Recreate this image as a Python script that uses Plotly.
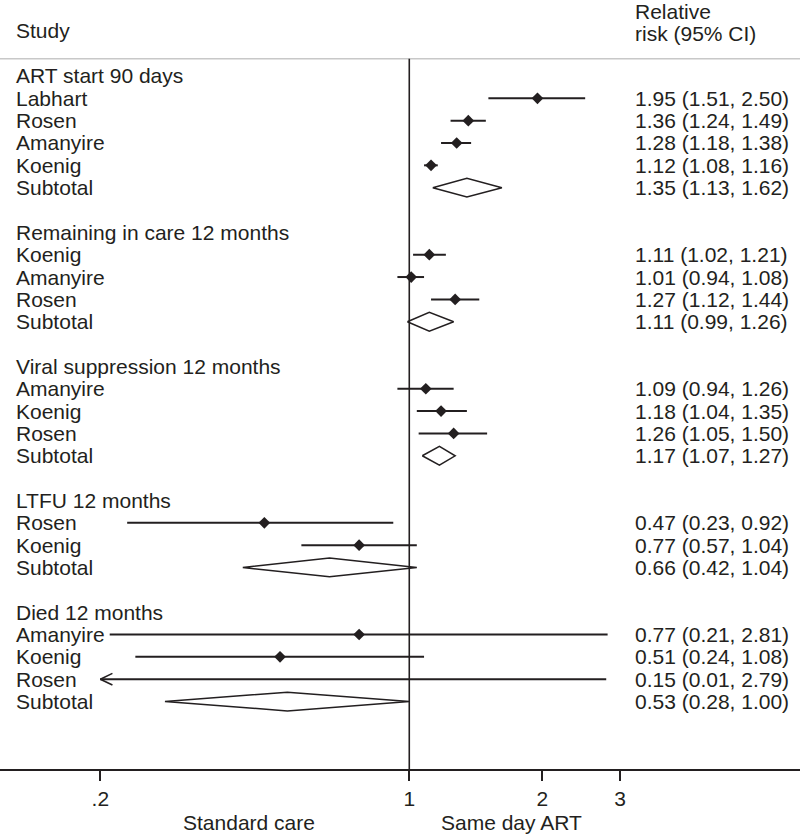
import plotly.graph_objects as go

# ---------------- data ----------------
group_names = ["ART start 90 days", "Remaining in care 12 months",
               "Viral suppression 12 months", "LTFU 12 months", "Died 12 months"]
study_group = [0, 0, 0, 0, 1, 1, 1, 2, 2, 2, 3, 3, 4, 4, 4]
study_names = ["Labhart", "Rosen", "Amanyire", "Koenig",
               "Koenig", "Amanyire", "Rosen",
               "Amanyire", "Koenig", "Rosen",
               "Rosen", "Koenig",
               "Amanyire", "Koenig", "Rosen"]
rr = [1.95, 1.36, 1.28, 1.12, 1.11, 1.01, 1.27, 1.09, 1.18, 1.26, 0.47, 0.77, 0.77, 0.51, 0.15]
ci_low = [1.51, 1.24, 1.18, 1.08, 1.02, 0.94, 1.12, 0.94, 1.04, 1.05, 0.23, 0.57, 0.21, 0.24, 0.01]
ci_high = [2.50, 1.49, 1.38, 1.16, 1.21, 1.08, 1.44, 1.26, 1.35, 1.50, 0.92, 1.04, 2.81, 1.08, 2.79]
sub_rr = [1.35, 1.11, 1.17, 0.66, 0.53]
sub_low = [1.13, 0.99, 1.07, 0.42, 0.28]
sub_high = [1.62, 1.26, 1.27, 1.04, 1.00]
tick_vals = [0.2, 1, 2, 3]
tick_text = [".2", "1", "2", "3"]
subtotal_label = "Subtotal"
header_left = "Study"
header_right = ["Relative", "risk (95% CI)"]
favours_left = "Standard care"
favours_right = "Same day ART"

# ---------------- style ----------------
FONT = "Liberation Sans, Arial, Helvetica, sans-serif"
FS = 21
INK = "#231f20"
XRANGE = [-0.926, 0.884]
YRANGE = [31.02, -3.40]
SEP_ROW = -0.77
HALF_DIAMOND = 0.42
CHEV_K = 1.065
CHEV_H = 0.26

# ---------------- layout rows ----------------
header_rows, study_rows, sub_rows = [], [], []
r = 0
for g in range(len(group_names)):
    header_rows.append(r)
    idx = [i for i, sg in enumerate(study_group) if sg == g]
    for j, i in enumerate(idx):
        study_rows.append(r + 1 + j)
    sub_rows.append(r + 1 + len(idx))
    r += len(idx) + 3

xmin_clip = tick_vals[0]

fig = go.Figure()

# CI lines
lx, ly = [], []
for i in range(len(rr)):
    lo = max(ci_low[i], xmin_clip)
    lx += [lo, ci_high[i], None]
    ly += [study_rows[i], study_rows[i], None]
fig.add_trace(go.Scatter(x=lx, y=ly, mode="lines",
                         line=dict(color=INK, width=2), hoverinfo="skip"))

# arrows for truncated CIs
ax, ay = [], []
for i in range(len(rr)):
    if ci_low[i] < xmin_clip:
        ax += [xmin_clip * CHEV_K, xmin_clip, xmin_clip * CHEV_K, None]
        ay += [study_rows[i] - CHEV_H, study_rows[i], study_rows[i] + CHEV_H, None]
fig.add_trace(go.Scatter(x=ax, y=ay, mode="lines",
                         line=dict(color=INK, width=1.6), hoverinfo="skip"))

# point estimates
px = [v for v in rr if v >= xmin_clip]
py = [study_rows[i] for i, v in enumerate(rr) if v >= xmin_clip]
fig.add_trace(go.Scatter(x=px, y=py, mode="markers",
                         marker=dict(symbol="diamond", size=9, color=INK)))

# subtotal diamonds
dx, dy = [], []
for k in range(len(sub_rr)):
    y0 = sub_rows[k]
    dx += [sub_low[k], sub_rr[k], sub_high[k], sub_rr[k], sub_low[k], None]
    dy += [y0, y0 - HALF_DIAMOND, y0, y0 + HALF_DIAMOND, y0, None]
fig.add_trace(go.Scatter(x=dx, y=dy, mode="lines",
                         line=dict(color=INK, width=1.5), hoverinfo="skip"))

# ---------------- text ----------------
ann = []
LEFT_X = 14 / 800
RIGHT_X = 633 / 800


def txt(x, y, s, xanchor="left", yref="y"):
    ann.append(dict(x=x, y=y, xref="paper", yref=yref, text=s, showarrow=False,
                    xanchor=xanchor, yanchor="middle",
                    font=dict(family=FONT, size=FS, color=INK)))


txt(LEFT_X, -2.05, header_left)
txt(RIGHT_X, -2.88, header_right[0])
txt(RIGHT_X, -1.9, header_right[1])
for g, name in enumerate(group_names):
    txt(LEFT_X, header_rows[g], name)
for i, name in enumerate(study_names):
    txt(LEFT_X, study_rows[i], name)
    txt(RIGHT_X, study_rows[i], f"{rr[i]:.2f} ({ci_low[i]:.2f}, {ci_high[i]:.2f})")
for k in range(len(sub_rr)):
    txt(LEFT_X, sub_rows[k], subtotal_label)
    txt(RIGHT_X, sub_rows[k], f"{sub_rr[k]:.2f} ({sub_low[k]:.2f}, {sub_high[k]:.2f})")

PLOT_H = 834 - 65
txt(249 / 800, -(822 - PLOT_H) / PLOT_H, favours_left, xanchor="center", yref="paper")
txt(511.5 / 800, -(822 - PLOT_H) / PLOT_H, favours_right, xanchor="center", yref="paper")

shapes = [
    dict(type="line", xref="paper", yref="y", x0=0, x1=1, y0=SEP_ROW, y1=SEP_ROW,
         line=dict(color="#c8c8c8", width=1.5)),
    dict(type="line", xref="x", yref="y", x0=1, x1=1, y0=SEP_ROW, y1=YRANGE[0],
         line=dict(color=INK, width=1.6)),
]

fig.update_layout(
    width=800, height=834,
    margin=dict(l=0, r=0, t=0, b=65),
    paper_bgcolor="white", plot_bgcolor="white",
    showlegend=False,
    annotations=ann, shapes=shapes,
    font=dict(family=FONT, size=FS, color=INK),
)
fig.update_xaxes(type="log", range=XRANGE, tickvals=tick_vals, ticktext=tick_text,
                 showgrid=False, zeroline=False, showline=True, linecolor=INK, linewidth=1.5,
                 ticks="outside", ticklen=10, tickwidth=1.5, tickcolor=INK,
                 tickfont=dict(family=FONT, size=FS, color=INK))
fig.update_yaxes(range=YRANGE, showgrid=False, zeroline=False, showline=False,
                 showticklabels=False, ticks="")

fig.write_html("out.html", config={"displayModeBar": False},
               post_script="document.body.style.margin='0';document.body.style.overflow='hidden';")
